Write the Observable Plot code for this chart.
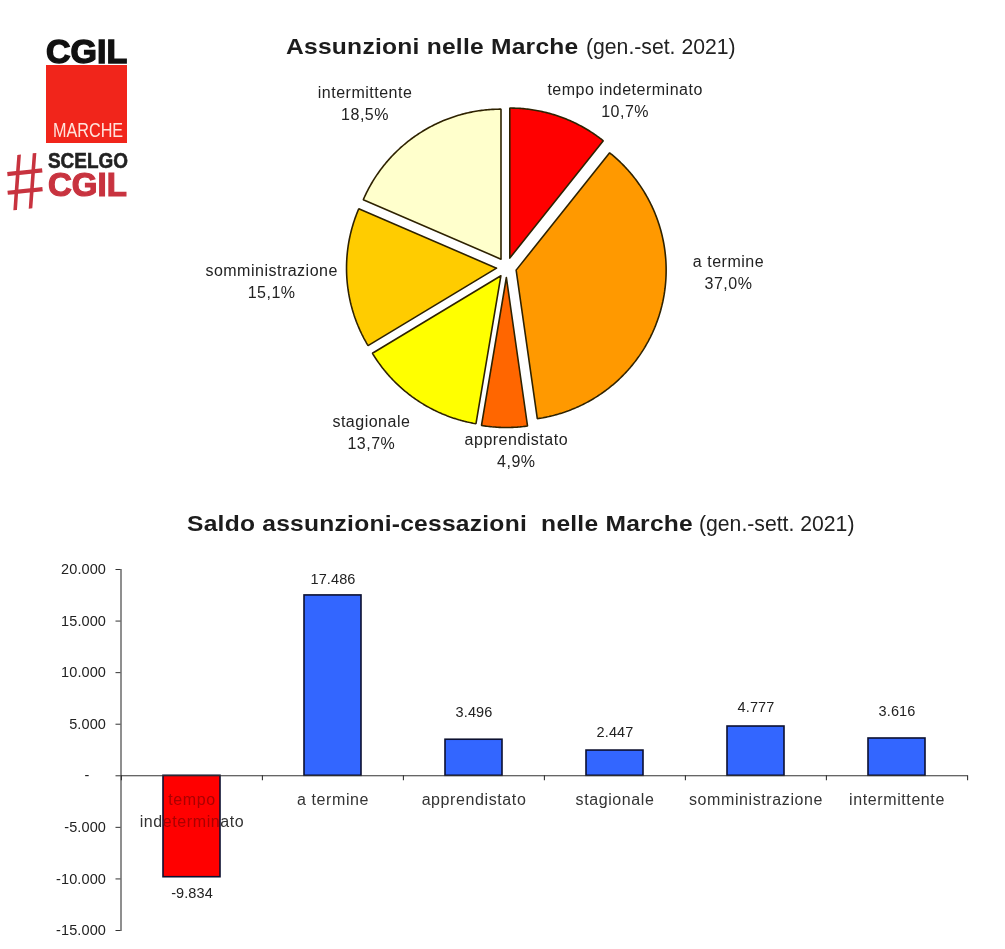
<!DOCTYPE html>
<html lang="it">
<head>
<meta charset="utf-8">
<title>Assunzioni nelle Marche</title>
<script src="https://cdn.jsdelivr.net/npm/d3@7"></script>
<script src="https://cdn.jsdelivr.net/npm/@observablehq/plot@0.6"></script>
<style>
html,body{margin:0;padding:0;background:#fff}
body{width:1005px;height:949px;position:relative;overflow:hidden;font-family:"Liberation Sans",Arial,sans-serif;color:#222}
.abs{position:absolute;white-space:pre;line-height:.8;transform-origin:0 0}
.tb{font-size:21.5px;font-weight:700;color:#1c1c1c;letter-spacing:.2px;transform:scaleX(1.145)}
.tr{font-size:21.2px;color:#222}
.logo{font-weight:700}
#pie,#bars{position:absolute;left:0}
#pie{top:0}
#bars{top:550px}
#pie g[font-size="16"]{letter-spacing:.5px}
#bars g[font-size="16"]{letter-spacing:.6px}
#bars g[font-size="14.5"]{letter-spacing:.1px}
</style>
</head>
<body>
<div class="abs logo" style="left:46px;top:38px;font-size:34px;color:#111;-webkit-text-stroke:1.4px #111">CGIL</div>
<div class="abs" style="left:46px;top:65px;width:81px;height:78px;background:#f1251b"></div>
<div class="abs" style="left:53px;top:123px;font-size:19.5px;color:#ffe3dc;transform:scaleX(.83)">MARCHE</div>
<div class="abs logo" style="left:48px;top:152px;font-size:22px;color:#222;-webkit-text-stroke:.6px #222;transform:scaleX(.86)">SCELGO</div>
<div class="abs logo" style="left:48px;top:172px;font-size:33px;color:#c8333f;-webkit-text-stroke:1.2px #c8333f">CGIL</div>
<div class="abs" style="left:3px;top:152px;font-size:80px;color:#c8333f;transform:rotate(-6deg) scaleX(.84)">#</div>

<div class="abs tb" style="left:286px;top:39px">Assunzioni nelle Marche</div>
<div class="abs tr" style="left:586px;top:39px">(gen.-set. 2021)</div>
<div class="abs tb" style="left:187px;top:516px">Saldo assunzioni-cessazioni  nelle Marche</div>
<div class="abs tr" style="left:699px;top:516px">(gen.-sett. 2021)</div>

<div id="pie"></div>
<div id="bars"></div>

<script>
// Pie: shares of hires
const categories = ["tempo indeterminato", "a termine", "apprendistato", "stagionale", "somministrazione", "intermittente"];
const shares = [10.7, 37.0, 4.9, 13.7, 15.1, 18.5];
const pieLabels = ["tempo indeterminato\n10,7%", "a termine\n37,0%", "apprendistato\n4,9%", "stagionale\n13,7%", "somministrazione\n15,1%", "intermittente\n18,5%"];
const pieColors = ["#ff0000", "#ff9900", "#ff6600", "#ffff00", "#ffcc00", "#ffffcc"];

// Bars: net hires minus terminations
const barValues = [-9834, 17486, 3496, 2447, 4777, 3616];
const barLabels = ["tempo\nindeterminato", "a termine", "apprendistato", "stagionale", "somministrazione", "intermittente"];
const yTicks = [20000, 15000, 10000, 5000, 0, -5000, -10000, -15000];

// Layout parameters (in pie radii / degrees, and in axis units)
const explode = 10 / 150;
const labelAngle = [35.1, 91, 176.9, 219.5, 267, 319.5];
const labelRadius = [1.375, 1.48, 1.21, 1.416, 1.568, 1.452];
const valueLabelGap = [1550, 1550, 2700, 1750, 1850, 2600];

const FONT = "Liberation Sans, Arial, sans-serif";
const rad = d => d * Math.PI / 180;

const arcs = d3.pie().sort(null).value(d => d)(shares);
const pieOutline = arcs.flatMap((a, i) => {
  const mid = (a.startAngle + a.endAngle) / 2;
  const cx = explode * Math.sin(mid), cy = explode * Math.cos(mid);
  const n = Math.ceil((a.endAngle - a.startAngle) / 0.01);
  const pts = [{name: categories[i], x: cx, y: cy}];
  for (let k = 0; k <= n; ++k) {
    const t = a.startAngle + (a.endAngle - a.startAngle) * k / n;
    pts.push({name: categories[i], x: cx + Math.sin(t), y: cy + Math.cos(t)});
  }
  pts.push({name: categories[i], x: cx, y: cy});
  return pts;
});
const pieText = categories.map((c, i) => ({
  text: pieLabels[i],
  x: labelRadius[i] * Math.sin(rad(labelAngle[i])),
  y: labelRadius[i] * Math.cos(rad(labelAngle[i]))
}));

document.getElementById("pie").append(Plot.plot({
  width: 1005, height: 500, margin: 0,
  x: {domain: [-1, 1], range: [356, 656], axis: null},
  y: {domain: [-1, 1], range: [417, 117], axis: null},
  color: {domain: categories, range: pieColors},
  style: {fontFamily: FONT, background: "transparent"},
  marks: [
    Plot.line(pieOutline, {x: "x", y: "y", z: "name", fill: "name", stroke: "#2e2200", strokeWidth: 1.6, strokeLinejoin: "miter", curve: "linear"}),
    Plot.text(pieText, {x: "x", y: "y", text: "text", fontSize: 16, lineHeight: 1.36, fill: "#222"})
  ]
}));

const loc = d3.formatLocale({decimal: ",", thousands: ".", grouping: [3], minus: "-"});
const fmt = loc.format(",d");
const tickFmt = d => d === 0 ? "-\u00a0\u00a0\u00a0\u00a0" : fmt(d);
const bars = categories.map((c, i) => ({
  name: c, label: barLabels[i], value: barValues[i], kind: barValues[i] < 0 ? "neg" : "pos",
  labelY: barValues[i] + (barValues[i] < 0 ? -valueLabelGap[i] : valueLabelGap[i])
}));

const stepPx = (1005 - 120.5 - 37.5) / categories.length;
const tickDrop = -480;

const barsPlot = Plot.plot({
  width: 1005, height: 399,
  marginTop: 19, marginBottom: 19, marginLeft: 120.5, marginRight: 37.5,
  x: {domain: categories, paddingInner: 0.596, paddingOuter: 0.298, axis: null},
  y: {domain: [-15000, 20000], axis: null},
  color: {domain: ["neg", "pos"], range: ["#ff0000", "#3366ff"]},
  style: {fontFamily: FONT, background: "white"},
  marks: [
    Plot.frame({fill: "white", stroke: "none"}),
    Plot.barY(bars, {x: "name", y: "value", fill: "kind", stroke: "#0c1030", strokeWidth: 1.6}),
    Plot.ruleY([0], {stroke: "#333", strokeWidth: 1.1}),
    Plot.frame({anchor: "left", stroke: "#333", strokeWidth: 1.1}),
    Plot.ruleX(categories, {x: d => d, y1: 0, y2: tickDrop, dx: -stepPx / 2, stroke: "#333", strokeWidth: 1.1}),
    Plot.ruleX(categories.slice(-1), {x: d => d, y1: 0, y2: tickDrop, dx: stepPx / 2, stroke: "#333", strokeWidth: 1.1}),
    Plot.axisY({ticks: yTicks, tickFormat: tickFmt, tickSize: 5, tickPadding: 10, fontSize: 14.5, stroke: "#333", fill: "#222", anchor: "left"}),
    Plot.text(bars, {x: "name", y: 0, text: "label", lineAnchor: "top", dy: 14, fontSize: 16, lineHeight: 1.36, fill: "#333", mixBlendMode: "luminosity"}),
    Plot.text(bars, {x: "name", y: "labelY", text: d => fmt(d.value), fontSize: 14.5, fill: "#222"})
  ]
});
document.getElementById("bars").append(barsPlot);
</script>
</body>
</html>
